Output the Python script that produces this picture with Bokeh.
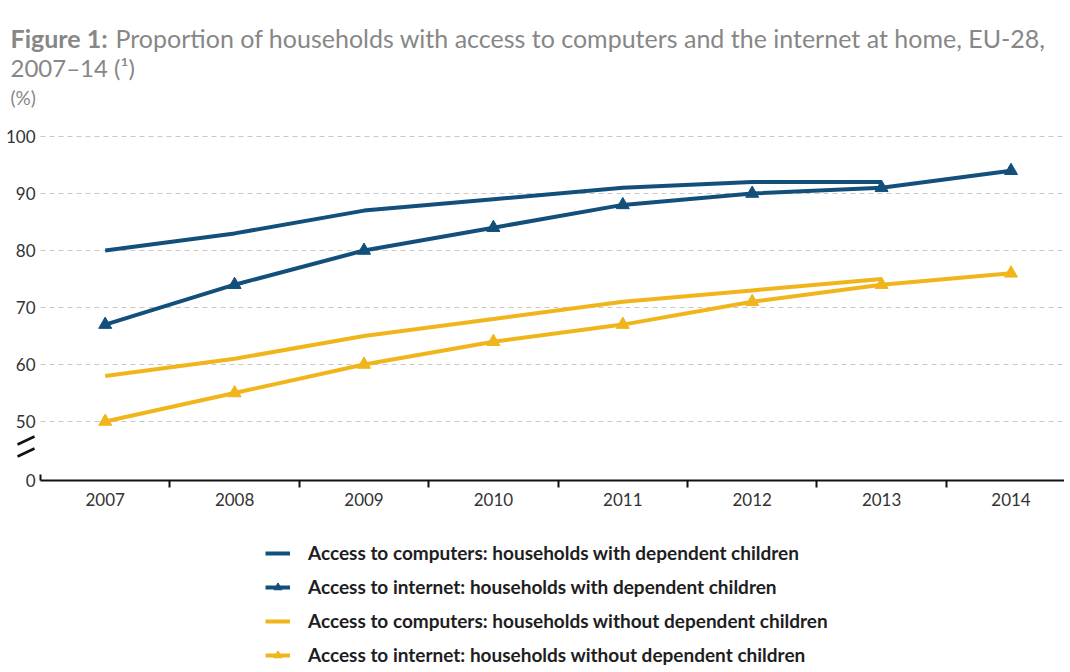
from bokeh.plotting import figure
from bokeh.models import Range1d, FixedTicker, Legend, LegendItem, Label
from bokeh.embed import file_html
from bokeh.resources import INLINE

# ---- data ----
years = [2007, 2008, 2009, 2010, 2011, 2012, 2013, 2014]
comp_with = [80, 83, 87, 89, 91, 92, 92, float("nan")]
net_with = [67, 74, 80, 84, 88, 90, 91, 94]
comp_without = [58, 61, 65, 68, 71, 73, 75, float("nan")]
net_without = [50, 55, 60, 64, 67, 71, 74, 76]
y_ticks = [50, 60, 70, 80, 90, 100]
legend_labels = [
    "Access to computers: households with dependent children",
    "Access to internet: households with dependent children",
    "Access to computers: households without dependent children",
    "Access to internet: households without dependent children",
]
title_bold = "Figure 1:"
title_rest = "Proportion of households with access to computers and the internet at home, EU-28,"
title_line2 = "2007\u201314 (\u00b9)"
unit_label = "(%)"
zero_label = "0"

# ---- style / layout ----
FONT = "Lato"
BLUE = "#12507b"
YELLOW = "#f1b51c"
GREY_TITLE = "#878787"
W, H = 1064, 670
X_ORIGIN_PX = 40      # canvas x of the boundary before the first year
Y_AXIS_PX = 480       # canvas y of the horizontal axis line
PX_PER_YEAR = 129.4
PX_PER_UNIT = 5.7
Y0 = 39.65            # value shown as "0" below the axis break


def xd(px):
    return years[0] - 0.5 + (px - X_ORIGIN_PX) / PX_PER_YEAR


def yd(py):
    return Y0 + (Y_AXIS_PX - py) / PX_PER_UNIT


p = figure(width=W, height=H, x_range=Range1d(xd(0), xd(W)),
           y_range=Range1d(yd(H), yd(0)),
           output_backend="svg", toolbar_location=None, title=None,
           min_border=0, outline_line_color=None,
           background_fill_color="white", border_fill_color="white")

p.xgrid.visible = False
p.ygrid.visible = False

# y axis (drawn at the start of the year band)
p.yaxis.fixed_location = xd(X_ORIGIN_PX)
p.yaxis.ticker = FixedTicker(ticks=[Y0] + y_ticks)
p.yaxis.major_label_overrides = {Y0: zero_label}
p.yaxis.axis_line_color = None
p.yaxis.major_tick_line_color = None
p.yaxis.minor_tick_line_color = None
p.yaxis.major_tick_out = 0
p.yaxis.major_tick_in = 0
p.yaxis.major_label_standoff = 5
p.yaxis.major_label_text_font = FONT
p.yaxis.major_label_text_font_size = "17px"
p.yaxis.major_label_text_color = "#333333"

# x axis
p.xaxis.fixed_location = Y0
p.xaxis.bounds = (xd(X_ORIGIN_PX), xd(W))
p.xaxis.ticker = FixedTicker(ticks=years, minor_ticks=[y + 0.5 for y in years[:-1]])
p.xaxis.major_label_overrides = {y: str(y) for y in years}
p.xaxis.axis_line_color = "#111111"
p.xaxis.axis_line_width = 2
p.xaxis.major_tick_line_color = None
p.xaxis.major_tick_out = 0
p.xaxis.major_tick_in = 0
p.xaxis.minor_tick_line_color = "#111111"
p.xaxis.minor_tick_line_width = 2
p.xaxis.minor_tick_out = 7
p.xaxis.minor_tick_in = 0
p.xaxis.major_label_standoff = 5
p.xaxis.major_label_text_font = FONT
p.xaxis.major_label_text_font_size = "17px"
p.xaxis.major_label_text_color = "#333333"

# dashed grid lines, starting at the axis origin
n = len(y_ticks)
p.segment(x0=[xd(X_ORIGIN_PX)] * n, y0=y_ticks, x1=[xd(W)] * n, y1=y_ticks,
          line_color="#c8c8c8", line_width=1, line_dash="5 4")

# axis break marks and small corner tick
p.segment(x0=[xd(17), xd(17)], y0=[yd(444), yd(456)],
          x1=[xd(34), xd(34)], y1=[yd(436), yd(448)],
          line_color="#111111", line_width=2.5)
p.segment(x0=[xd(X_ORIGIN_PX)], y0=[Y0], x1=[xd(X_ORIGIN_PX)], y1=[yd(Y_AXIS_PX - 6)],
          line_color="#111111", line_width=2)

# series
r1 = p.line(years, comp_with, line_color=BLUE, line_width=4)
r2 = p.line(years, net_with, line_color=BLUE, line_width=4)
r2m = p.scatter(years, net_with, marker="triangle", size=13, fill_color=BLUE, line_color=BLUE)
r3 = p.line(years, comp_without, line_color=YELLOW, line_width=4)
r4 = p.line(years, net_without, line_color=YELLOW, line_width=4)
r4m = p.scatter(years, net_without, marker="triangle", size=13, fill_color=YELLOW, line_color=YELLOW)

legend = Legend(items=[
    LegendItem(label=legend_labels[0], renderers=[r1]),
    LegendItem(label=legend_labels[1], renderers=[r2, r2m]),
    LegendItem(label=legend_labels[2], renderers=[r3]),
    LegendItem(label=legend_labels[3], renderers=[r4, r4m]),
], location=(265, H - 666), orientation="vertical", padding=0, margin=0,
    spacing=11, label_height=20, glyph_height=20, glyph_width=25,
    label_standoff=18, border_line_color=None, background_fill_alpha=0,
    label_text_font=FONT, label_text_font_size="19px",
    label_text_font_style="bold", label_text_color="#1e1e1e")
p.add_layout(legend, "center")


# titles (screen units: x from left, y up from the bottom of the canvas)
def lab(x, y_from_top, text, size, color, style="normal"):
    p.add_layout(Label(x=x, y=H - y_from_top, x_units="screen", y_units="screen",
                       text=text, text_font=FONT, text_font_size=size,
                       text_color=color, text_font_style=style,
                       text_baseline="alphabetic"))


lab(10, 37, title_bold, "25px", GREY_TITLE, "bold")
lab(115, 37, title_rest, "25px", GREY_TITLE)
lab(10, 67, title_line2, "24px", GREY_TITLE)
lab(10, 97, unit_label, "19px", GREY_TITLE)

open("out.html", "w").write(file_html(p, INLINE))
